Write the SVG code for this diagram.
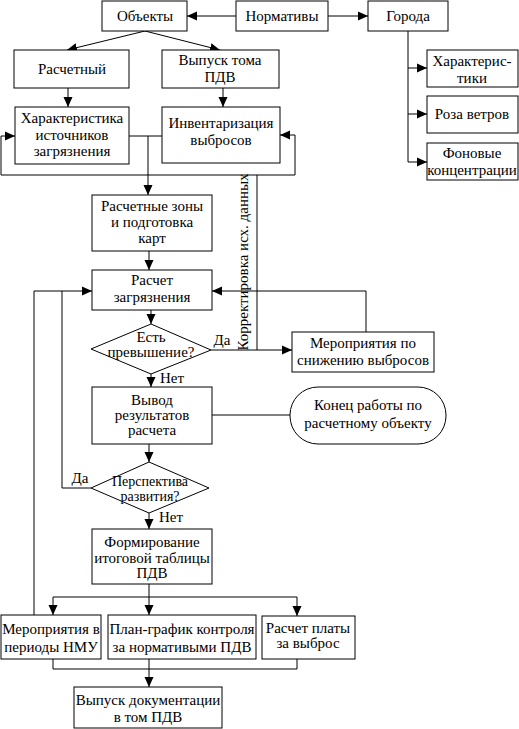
<svg xmlns="http://www.w3.org/2000/svg" width="519" height="729" viewBox="0 0 519 729">
<defs>
<marker id="ar" markerUnits="userSpaceOnUse" markerWidth="10" markerHeight="10" refX="10" refY="5" orient="auto">
<path d="M0,0.5 L10,5 L0,9.5 z" fill="#000"/>
</marker>
</defs>
<style>
rect,polygon{fill:#fff;stroke:#000;stroke-width:1}
path.c{fill:none;stroke:#000;stroke-width:1}
path.a{fill:none;stroke:#000;stroke-width:1;marker-end:url(#ar)}
text{font-family:'Liberation Serif','Times New Roman',serif;font-size:15px;fill:#000;text-anchor:middle}
</style>
<rect width="519" height="729" style="fill:#fff;stroke:none"/>
<g id="connectors">
<path class="a" d="M236,16 H187"/>
<path class="a" d="M328,16 H368"/>
<path class="a" d="M145,31 L67,50"/>
<path class="a" d="M145,31 L220,50"/>
<path class="a" d="M68,88 V107"/>
<path class="a" d="M223,88 V107"/>
<path class="c" d="M129,136 H162"/>
<path class="a" d="M148,136 V195"/>
<path class="a" d="M148,175 H1 V136 H15"/>
<path class="a" d="M148,175 H295 V135 H280"/>
<path class="c" d="M257,175 V350"/>
<path class="a" d="M149,251 V270"/>
<path class="a" d="M151,310 V324"/>
<path class="a" d="M211,350 H292"/>
<path class="a" d="M366,332 V291 H212"/>
<path class="a" d="M151,374 V387"/>
<path class="c" d="M212,415 H290"/>
<path class="a" d="M149,444 V462"/>
<path class="a" d="M34,615 V291 H92"/>
<path class="c" d="M91,488 H62 V291"/>
<path class="a" d="M149,513 V529"/>
<path class="a" d="M149,584 V615"/>
<path class="c" d="M53,597 H297"/>
<path class="a" d="M53,597 V615"/>
<path class="a" d="M297,597 V616"/>
<path class="c" d="M53,659 V669 H297 V659"/>
<path class="a" d="M149,659 V687"/>
<path class="c" d="M408,31 V162"/>
<path class="a" d="M408,68 H427"/>
<path class="a" d="M408,114 H427"/>
<path class="a" d="M408,162 H427"/>
<text x="248" y="262" transform="rotate(-90 248 262)">Корректировка исх. данных</text>
<text x="222" y="345">Да</text>
<text x="80" y="483">Да</text>
<text x="172" y="383">Нет</text>
<text x="171" y="522">Нет</text>
</g>
<g id="objekty"><rect x="102" y="1" width="85" height="30"/><text x="145" y="21">Объекты</text></g>
<g id="normativy"><rect x="236" y="1" width="92" height="30"/><text x="282" y="21">Нормативы</text></g>
<g id="goroda"><rect x="368" y="1" width="80" height="30"/><text x="408" y="21">Города</text></g>
<g id="raschetny"><rect x="14" y="50" width="115" height="38"/><text x="72" y="74">Расчетный</text></g>
<g id="vypusk-toma"><rect x="162" y="50" width="117" height="38"/><text x="220" y="65">Выпуск тома</text><text x="220" y="82">ПДВ</text></g>
<g id="harakteristika"><rect x="15" y="107" width="114" height="57"/><text x="72" y="123">Характеристика</text><text x="72" y="140">источников</text><text x="72" y="156">загрязнения</text></g>
<g id="inventarizacia"><rect x="162" y="107" width="118" height="56"/><text x="221" y="128">Инвентаризация</text><text x="221" y="145">выбросов</text></g>
<g id="harakteristiki"><rect x="427" y="50" width="91" height="37"/><text x="472" y="66">Характерис-</text><text x="472" y="83">тики</text></g>
<g id="roza"><rect x="427" y="96" width="91" height="37"/><text x="472" y="119">Роза ветров</text></g>
<g id="fonovye"><rect x="427" y="143" width="91" height="37"/><text x="472" y="158">Фоновые</text><text x="472" y="175">концентрации</text></g>
<g id="zony"><rect x="92" y="195" width="120" height="56"/><text x="152" y="211">Расчетные зоны</text><text x="152" y="227">и подготовка</text><text x="152" y="243">карт</text></g>
<g id="raschet"><rect x="92" y="270" width="120" height="40"/><text x="152" y="285">Расчет</text><text x="152" y="302">загрязнения</text></g>
<g id="prevyshenie"><polygon points="151,324 211,350 151,374 91,349"/><text x="151" y="342">Есть</text><text x="151" y="357">превышение?</text></g>
<g id="meropriyatiya"><rect x="292" y="332" width="142" height="40"/><text x="363" y="348">Мероприятия по</text><text x="363" y="365">снижению выбросов</text></g>
<g id="vyvod"><rect x="92" y="387" width="120" height="57"/><text x="152" y="405">Вывод</text><text x="152" y="420">результатов</text><text x="152" y="435">расчета</text></g>
<g id="konec"><rect x="290" y="387" width="156" height="57" rx="28" ry="28"/><text x="368" y="410">Конец работы по</text><text x="368" y="428">расчетному объекту</text></g>
<g id="perspektiva"><polygon points="149,462 209,488 149,513 91,488"/><text x="150" y="486" style="font-size:14px">Перспектива</text><text x="150" y="501" style="font-size:14px">развития?</text></g>
<g id="formirovanie"><rect x="92" y="529" width="120" height="55"/><text x="152" y="547">Формирование</text><text x="152" y="563">итоговой таблицы</text><text x="152" y="578">ПДВ</text></g>
<g id="nmu"><rect x="1" y="615" width="100" height="44"/><text x="51" y="634">Мероприятия в</text><text x="51" y="652">периоды НМУ</text></g>
<g id="plan"><rect x="108" y="615" width="148" height="44"/><text x="182" y="634">План-график контроля</text><text x="182" y="652">за нормативыми ПДВ</text></g>
<g id="plata"><rect x="262" y="616" width="93" height="43"/><text x="308" y="633">Расчет платы</text><text x="308" y="648">за выброс</text></g>
<g id="vypusk-doc"><rect x="74" y="687" width="148" height="41"/><text x="148" y="705">Выпуск документации</text><text x="148" y="722">в том ПДВ</text></g>
</svg>
